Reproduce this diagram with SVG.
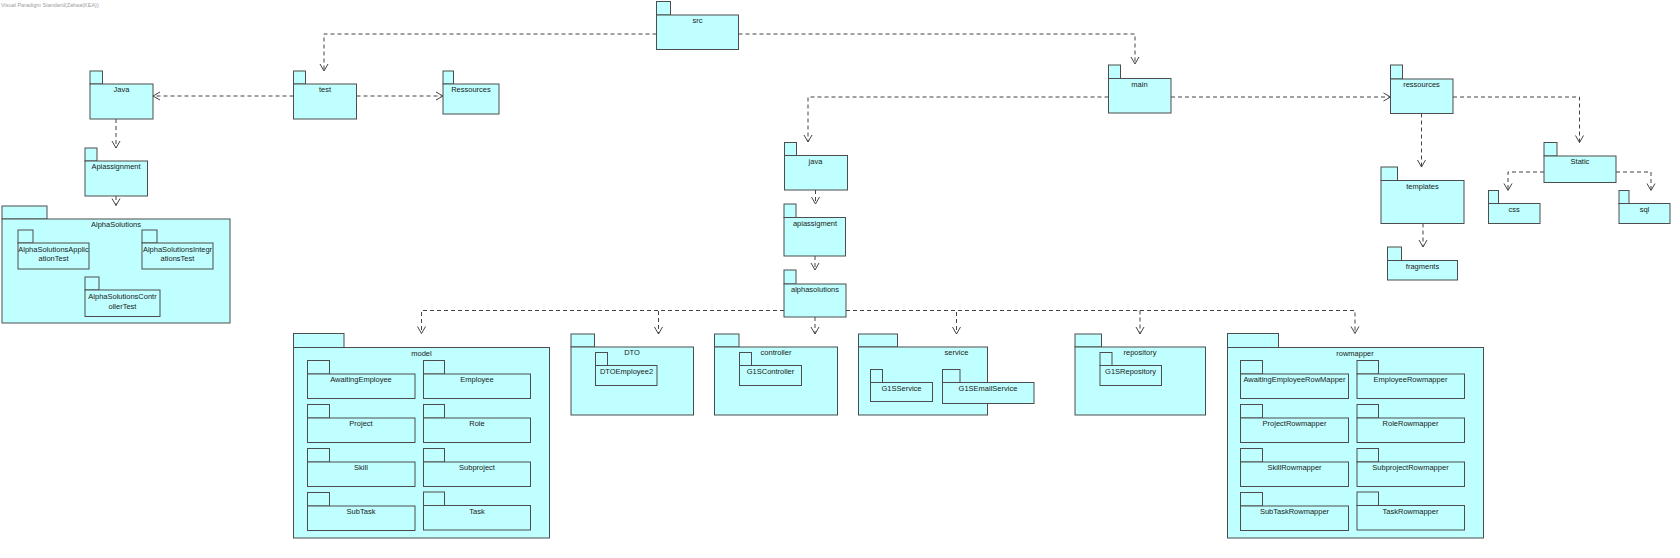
<svg xmlns="http://www.w3.org/2000/svg" width="1680" height="558" viewBox="0 0 1680 558">
<style>
.pkg rect{fill:#C0FFFF;stroke:#4d4d4d;stroke-width:1}
.lbl{font-family:"Liberation Sans",Arial,sans-serif;font-size:7.5px;text-anchor:middle;fill:#1a1a1a}
.conn path{fill:none;stroke:#444;stroke-width:1;stroke-dasharray:4 3;marker-end:url(#arr)}
.hdr{font-family:"Liberation Sans",Arial,sans-serif;font-size:5.5px;fill:#a0a0a0}
</style>
<defs>
<marker id="arr" markerUnits="userSpaceOnUse" markerWidth="10" markerHeight="10" refX="7" refY="4" orient="auto" overflow="visible">
<path d="M0,0 L7,4 L0,8" fill="none" stroke="#444" stroke-width="1" stroke-dasharray="none"/>
</marker>
</defs>
<rect width="1680" height="558" fill="#ffffff"/>
<text class="hdr" x="1" y="7">Visual Paradigm Standard(Zahaa(KEA))</text>

<g id="connectors" class="conn">
<path d="M656.5,34 H324 V71"/>
<path d="M738.5,34 H1135 V64"/>
<path d="M293.5,96 H153"/>
<path d="M356.5,96 H443"/>
<path d="M116,119 V148"/>
<path d="M116,196 V205.5"/>
<path d="M1108.5,97 H808 V142"/>
<path d="M815.5,190 V204"/>
<path d="M815,256 V270"/>
<path d="M1171,97 H1390.5"/>
<path d="M1421.5,113.5 V167"/>
<path d="M1453,97 H1579.5 V142.5"/>
<path d="M1423,223.5 V247"/>
<path d="M1544,172 H1508 V190.5"/>
<path d="M1616,172 H1651 V190.5"/>
<path d="M784,310.5 H421.5 V333.5"/>
<path d="M784,310.5 H658.5 V334"/>
<path d="M815,317 V334"/>
<path d="M846,310.5 H956.5 V334"/>
<path d="M846,310.5 H1140 V334"/>
<path d="M846,310.5 H1355 V333.5"/>
</g>

<g id="src" class="pkg"><rect x="656.5" y="1.5" width="14" height="13.5"/><rect x="656.5" y="15" width="82" height="34.5"/><text class="lbl" x="697.5" y="23">src</text></g>
<g id="test" class="pkg"><rect x="293.5" y="71" width="12" height="13"/><rect x="293.5" y="84" width="63" height="35"/><text class="lbl" x="325" y="92">test</text></g>
<g id="Java" class="pkg"><rect x="90" y="71" width="12.5" height="13"/><rect x="90" y="84" width="63" height="35"/><text class="lbl" x="121.5" y="92">Java</text></g>
<g id="Ressources" class="pkg"><rect x="443" y="71" width="10.5" height="13"/><rect x="443" y="84" width="56" height="30"/><text class="lbl" x="471" y="92">Ressources</text></g>
<g id="Apiassignment" class="pkg"><rect x="85" y="148" width="12" height="13"/><rect x="85" y="161" width="62.5" height="35"/><text class="lbl" x="116" y="169">Apiassignment</text></g>
<g id="AlphaSolutions" class="pkg"><rect x="2" y="206" width="45" height="13"/><rect x="2" y="219" width="228" height="104"/><text class="lbl" x="116" y="227">AlphaSolutions</text></g>
<g id="AlphaSolutionsApplicationTest" class="pkg"><rect x="18" y="230" width="15" height="13"/><rect x="18" y="243" width="71" height="26"/><text class="lbl" x="53.5" y="251.5">AlphaSolutionsApplic</text><text class="lbl" x="53.5" y="261">ationTest</text></g>
<g id="AlphaSolutionsIntegrationsTest" class="pkg"><rect x="142" y="230" width="15" height="13"/><rect x="142" y="243" width="71" height="26"/><text class="lbl" x="177.5" y="251.5">AlphaSolutionsIntegr</text><text class="lbl" x="177.5" y="261">ationsTest</text></g>
<g id="AlphaSolutionsControllerTest" class="pkg"><rect x="85" y="277" width="14" height="13"/><rect x="85" y="290" width="75" height="26.5"/><text class="lbl" x="122.5" y="298.5">AlphaSolutionsContr</text><text class="lbl" x="122.5" y="308.5">ollerTest</text></g>

<g id="main" class="pkg"><rect x="1108.5" y="65" width="12" height="13.5"/><rect x="1108.5" y="78.5" width="62.5" height="34.5"/><text class="lbl" x="1139.5" y="87">main</text></g>
<g id="java" class="pkg"><rect x="784.5" y="142.5" width="12" height="13"/><rect x="784.5" y="155.5" width="63" height="34.5"/><text class="lbl" x="815.5" y="164">java</text></g>
<g id="apiassigment" class="pkg"><rect x="784" y="204" width="12" height="13.5"/><rect x="784" y="217.5" width="61.5" height="38.5"/><text class="lbl" x="815" y="226">apiassigment</text></g>
<g id="alphasolutions" class="pkg"><rect x="784" y="270" width="12" height="14"/><rect x="784" y="284" width="62" height="33"/><text class="lbl" x="815" y="292">alphasolutions</text></g>

<g id="ressources" class="pkg"><rect x="1390.5" y="65" width="12" height="14"/><rect x="1390.5" y="79" width="62.5" height="34.5"/><text class="lbl" x="1421.5" y="87">ressources</text></g>
<g id="templates" class="pkg"><rect x="1381" y="167" width="16.5" height="13.5"/><rect x="1381" y="180.5" width="83" height="43"/><text class="lbl" x="1422.5" y="189">templates</text></g>
<g id="fragments" class="pkg"><rect x="1387.5" y="247" width="14" height="13.5"/><rect x="1387.5" y="260.5" width="70" height="19.5"/><text class="lbl" x="1422.5" y="269">fragments</text></g>
<g id="Static" class="pkg"><rect x="1544" y="142.5" width="13" height="13.5"/><rect x="1544" y="156" width="72" height="26.5"/><text class="lbl" x="1580" y="164">Static</text></g>
<g id="css" class="pkg"><rect x="1488.5" y="190.5" width="10" height="13"/><rect x="1488.5" y="203.5" width="51.5" height="20"/><text class="lbl" x="1514" y="212">css</text></g>
<g id="sql" class="pkg"><rect x="1619" y="190.5" width="10" height="13"/><rect x="1619" y="203.5" width="51" height="20"/><text class="lbl" x="1644.5" y="212">sql</text></g>

<g id="model" class="pkg"><rect x="293.5" y="333.5" width="50.5" height="14"/><rect x="293.5" y="347.5" width="256" height="190.5"/><text class="lbl" x="421.5" y="355.5">model</text>
<g id="AwaitingEmployee"><rect x="307.5" y="360.5" width="22" height="13.5"/><rect x="307.5" y="374" width="107.5" height="24.5"/><text class="lbl" x="361" y="382">AwaitingEmployee</text></g>
<g id="Employee"><rect x="423.5" y="360.5" width="21" height="13.5"/><rect x="423.5" y="374" width="107" height="24.5"/><text class="lbl" x="477" y="382">Employee</text></g>
<g id="Project"><rect x="307.5" y="404.5" width="22" height="13.5"/><rect x="307.5" y="418" width="107.5" height="24.5"/><text class="lbl" x="361" y="426">Project</text></g>
<g id="Role"><rect x="423.5" y="404.5" width="21" height="13.5"/><rect x="423.5" y="418" width="107" height="24.5"/><text class="lbl" x="477" y="426">Role</text></g>
<g id="Skill"><rect x="307.5" y="448.5" width="22" height="13.5"/><rect x="307.5" y="462" width="107.5" height="24.5"/><text class="lbl" x="361" y="470">Skill</text></g>
<g id="Subproject"><rect x="423.5" y="448.5" width="21" height="13.5"/><rect x="423.5" y="462" width="107" height="24.5"/><text class="lbl" x="477" y="470">Subproject</text></g>
<g id="SubTask"><rect x="307.5" y="492.5" width="22" height="13.5"/><rect x="307.5" y="506" width="107.5" height="24.5"/><text class="lbl" x="361" y="514">SubTask</text></g>
<g id="Task"><rect x="423.5" y="492" width="21" height="13.5"/><rect x="423.5" y="505.5" width="107" height="24.5"/><text class="lbl" x="477" y="513.5">Task</text></g>
</g>

<g id="DTO" class="pkg"><rect x="571" y="334" width="23.5" height="13"/><rect x="571" y="347" width="122.5" height="68"/><text class="lbl" x="632" y="355">DTO</text>
<g id="DTOEmployee2"><rect x="595.5" y="352.5" width="12" height="13"/><rect x="595.5" y="365.5" width="61.5" height="20"/><text class="lbl" x="626.5" y="373.5">DTOEmployee2</text></g>
</g>
<g id="controller" class="pkg"><rect x="714.5" y="334" width="24.5" height="13"/><rect x="714.5" y="347" width="123" height="68"/><text class="lbl" x="776" y="355">controller</text>
<g id="G1SController"><rect x="739.5" y="352.5" width="12" height="13"/><rect x="739.5" y="365.5" width="62" height="20"/><text class="lbl" x="770.5" y="373.5">G1SController</text></g>
</g>
<g id="service" class="pkg"><rect x="858.5" y="334" width="39" height="13"/><rect x="858.5" y="347" width="129" height="68"/><text class="lbl" x="956.5" y="355">service</text>
<g id="G1SService"><rect x="870.5" y="369.5" width="12" height="13"/><rect x="870.5" y="382.5" width="62" height="19"/><text class="lbl" x="901.5" y="390.5">G1SService</text></g>
<g id="G1SEmailService"><rect x="942.5" y="369.5" width="17.5" height="13"/><rect x="942.5" y="382.5" width="91.5" height="21"/><text class="lbl" x="988" y="390.5">G1SEmailService</text></g>
</g>
<g id="repository" class="pkg"><rect x="1075" y="334" width="26.5" height="13"/><rect x="1075" y="347" width="130.5" height="68"/><text class="lbl" x="1140" y="355">repository</text>
<g id="G1SRepository"><rect x="1100" y="352.5" width="12" height="13"/><rect x="1100" y="365.5" width="61.5" height="20"/><text class="lbl" x="1130.5" y="373.5">G1SRepository</text></g>
</g>

<g id="rowmapper" class="pkg"><rect x="1227.5" y="333.5" width="51" height="14"/><rect x="1227.5" y="347.5" width="256" height="190.5"/><text class="lbl" x="1355" y="355.5">rowmapper</text>
<g id="AwaitingEmployeeRowMapper"><rect x="1240.5" y="360.5" width="22" height="13.5"/><rect x="1240.5" y="374" width="108" height="24.5"/><text class="lbl" x="1294.5" y="382">AwaitingEmployeeRowMapper</text></g>
<g id="EmployeeRowmapper"><rect x="1357" y="360.5" width="21.5" height="13.5"/><rect x="1357" y="374" width="107.5" height="24.5"/><text class="lbl" x="1410.5" y="382">EmployeeRowmapper</text></g>
<g id="ProjectRowmapper"><rect x="1240.5" y="404.5" width="22" height="13.5"/><rect x="1240.5" y="418" width="108" height="24.5"/><text class="lbl" x="1294.5" y="426">ProjectRowmapper</text></g>
<g id="RoleRowmapper"><rect x="1357" y="404.5" width="21.5" height="13.5"/><rect x="1357" y="418" width="107.5" height="24.5"/><text class="lbl" x="1410.5" y="426">RoleRowmapper</text></g>
<g id="SkillRowmapper"><rect x="1240.5" y="448.5" width="22" height="13.5"/><rect x="1240.5" y="462" width="108" height="24.5"/><text class="lbl" x="1294.5" y="470">SkillRowmapper</text></g>
<g id="SubprojectRowmapper"><rect x="1357" y="448.5" width="21.5" height="13.5"/><rect x="1357" y="462" width="107.5" height="24.5"/><text class="lbl" x="1410.5" y="470">SubprojectRowmapper</text></g>
<g id="SubTaskRowmapper"><rect x="1240.5" y="492.5" width="22" height="13.5"/><rect x="1240.5" y="506" width="108" height="24.5"/><text class="lbl" x="1294.5" y="514">SubTaskRowmapper</text></g>
<g id="TaskRowmapper"><rect x="1357" y="492" width="21.5" height="13.5"/><rect x="1357" y="505.5" width="107.5" height="24.5"/><text class="lbl" x="1410.5" y="513.5">TaskRowmapper</text></g>
</g>
</svg>
